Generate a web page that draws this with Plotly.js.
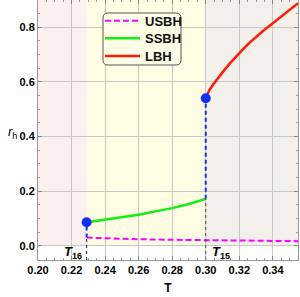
<!DOCTYPE html>
<html>
<head>
<meta charset="utf-8">
<script src="https://cdn.plot.ly/plotly-3.0.1.min.js"></script>
<style>html,body{margin:0;padding:0;background:#fff;}#chart{width:300px;height:297px;}</style>
</head>
<body>
<div id="chart"></div>
<script>
// Transition temperatures
var T16 = 0.229;
var T15 = 0.300;

// USBH (unstable small black hole)
var T_usbh = [0.229, 0.240, 0.260, 0.280, 0.300, 0.320, 0.340, 0.355];
var r_usbh = [0.030, 0.027, 0.024, 0.022, 0.020, 0.019, 0.018, 0.017];

// SSBH (stable small black hole)
var T_ssbh = [0.229, 0.240, 0.250, 0.260, 0.270, 0.280, 0.290, 0.300];
var r_ssbh = [0.086, 0.095, 0.104, 0.114, 0.126, 0.138, 0.153, 0.172];

// LBH (large black hole)
var T_lbh = [0.300, 0.302, 0.304, 0.307, 0.310, 0.314, 0.318, 0.322, 0.326, 0.330, 0.335, 0.340, 0.345, 0.350, 0.355];
var r_lbh = [0.540, 0.568, 0.587, 0.612, 0.635, 0.665, 0.693, 0.718, 0.743, 0.765, 0.791, 0.815, 0.840, 0.864, 0.888];

// Transition points (markers)
var T_pts = [T16, T15];
var r_pts = [0.086, 0.540];

// Labels
var seriesNames = ["USBH", "SSBH", "LBH"];
var xTicks = [0.20, 0.22, 0.24, 0.26, 0.28, 0.30, 0.32, 0.34];
var yTicks = [0.0, 0.2, 0.4, 0.6, 0.8];

var yMin = -0.052, yMax = 0.9, xMin = 0.2, xMax = 0.355;

var traces = [
  {x: T_usbh, y: r_usbh, mode: 'lines', name: seriesNames[0], legend: 'legend',
   line: {color: '#ff00ff', width: 2, dash: '6px,3px'}},
  {x: T_ssbh, y: r_ssbh, mode: 'lines', name: seriesNames[1], legend: 'legend2',
   line: {color: '#11ee11', width: 2.5}},
  {x: T_lbh, y: r_lbh, mode: 'lines', name: seriesNames[2], legend: 'legend3',
   line: {color: '#ff1a0a', width: 2.5}},
  // black dashed drop lines
  {x: [T16, T16], y: [yMin, r_usbh[0]], mode: 'lines', showlegend: false,
   line: {color: '#222', width: 1, dash: '3px,3px'}},
  {x: [T15, T15], y: [yMin, r_ssbh[r_ssbh.length-1]], mode: 'lines', showlegend: false,
   line: {color: '#444', width: 1, dash: '3px,3px'}},
  // blue dashed jumps
  {x: [T16, T16], y: [r_usbh[0], r_pts[0]], mode: 'lines', showlegend: false,
   line: {color: '#1030f0', width: 2, dash: '4px,3px'}},
  {x: [T15, T15], y: [r_ssbh[r_ssbh.length-1], r_pts[1]], mode: 'lines', showlegend: false,
   line: {color: '#1030f0', width: 2, dash: '4px,3px'}},
  {x: T_pts, y: r_pts, mode: 'markers', showlegend: false,
   marker: {color: '#1030f0', size: 10}}
];

var r = 5/260;
var lx0 = (103-38)/260, lx1 = (181-38)/260, ly1 = 1 - 13/260, ly0 = 1 - 65/260;
var legendPath = 'M' + (lx0+r) + ',' + ly1 + ' L' + (lx1-r) + ',' + ly1 +
  ' Q' + lx1 + ',' + ly1 + ' ' + lx1 + ',' + (ly1-r) +
  ' L' + lx1 + ',' + (ly0+r) + ' Q' + lx1 + ',' + ly0 + ' ' + (lx1-r) + ',' + ly0 +
  ' L' + (lx0+r) + ',' + ly0 + ' Q' + lx0 + ',' + ly0 + ' ' + lx0 + ',' + (ly0+r) +
  ' L' + lx0 + ',' + (ly1-r) + ' Q' + lx0 + ',' + ly1 + ' ' + (lx0+r) + ',' + ly1 + ' Z';

var FAM = 'Liberation Sans, Arial, sans-serif';
var tickFont = {family: FAM, size: 11, color: '#000', weight: 'bold'};
var legFont = {family: FAM, size: 13, color: '#111', weight: 'bold'};

function leg(py) {
  return {x: (100-38)/260, y: 1 - py/260, xanchor: 'left', yanchor: 'middle',
          bgcolor: 'rgba(0,0,0,0)', borderwidth: 0, itemwidth: 35, font: legFont};
}

var layout = {
  width: 300, height: 297,
  margin: {l: 38, r: 2, t: 0, b: 37},
  paper_bgcolor: '#ffffff',
  plot_bgcolor: '#ffffff',
  showlegend: true,
  legend: leg(20.7),
  legend2: leg(38.3),
  legend3: leg(56),
  xaxis: {range: [xMin, xMax], tickvals: xTicks, tickformat: '.2f', tickfont: tickFont,
          ticks: 'inside', ticklen: 4, tickcolor: '#888', mirror: 'ticks',
          showline: true, linecolor: '#999', linewidth: 1,
          showgrid: true, gridcolor: '#c9c7c2', gridwidth: 1, zeroline: false,
          minor: {dtick: 0.005, tick0: 0.2, ticks: 'inside', ticklen: 2, tickcolor: '#999', showgrid: false},
          title: {text: 'T', font: {family: FAM, size: 12, color: '#000', weight: 'bold'}, standoff: 8}},
  yaxis: {range: [yMin, yMax], tickvals: yTicks, tickformat: '.1f', tickfont: tickFont,
          ticks: 'inside', ticklen: 4, tickcolor: '#888', mirror: 'ticks',
          showline: true, linecolor: '#999', linewidth: 1,
          showgrid: true, gridcolor: '#c9c7c2', gridwidth: 1, zeroline: false,
          minor: {dtick: 0.05, tick0: 0, ticks: 'inside', ticklen: 2, tickcolor: '#999', showgrid: false}},
  shapes: [
    {type: 'rect', xref: 'x', yref: 'y', x0: xMin, x1: T16, y0: 0, y1: yMax, layer: 'below',
     fillcolor: '#fcefef', line: {width: 0}},
    {type: 'rect', xref: 'x', yref: 'y', x0: T16, x1: T15, y0: 0, y1: yMax, layer: 'below',
     fillcolor: '#fefde4', line: {width: 0}},
    {type: 'rect', xref: 'x', yref: 'y', x0: T15, x1: xMax, y0: 0, y1: yMax, layer: 'below',
     fillcolor: '#f3efea', line: {width: 0}},
    {type: 'path', xref: 'paper', yref: 'paper', path: legendPath, layer: 'above',
     fillcolor: '#fefde6', line: {color: '#555', width: 1}}
  ],
  annotations: [
    {xref: 'paper', yref: 'paper', x: (6-38)/260, y: 1 - 132/260, xanchor: 'left', showarrow: false,
     text: '<i>r</i><sub>h</sub>', font: {family: FAM, size: 13, color: '#000'}},
    {xref: 'x', yref: 'y', x: T16, y: -0.026, xanchor: 'right', xshift: -3, showarrow: false,
     text: '<b><i>T</i><sub>16</sub></b>', font: {family: FAM, size: 13, color: '#000'}},
    {xref: 'x', yref: 'y', x: T15, y: -0.026, xanchor: 'left', xshift: 4, showarrow: false,
     text: '<b><i>T</i><sub>15</sub></b>', font: {family: FAM, size: 13, color: '#000'}}
  ]
};

Plotly.newPlot('chart', traces, layout, {displayModeBar: false, staticPlot: true});
</script>
</body>
</html>
